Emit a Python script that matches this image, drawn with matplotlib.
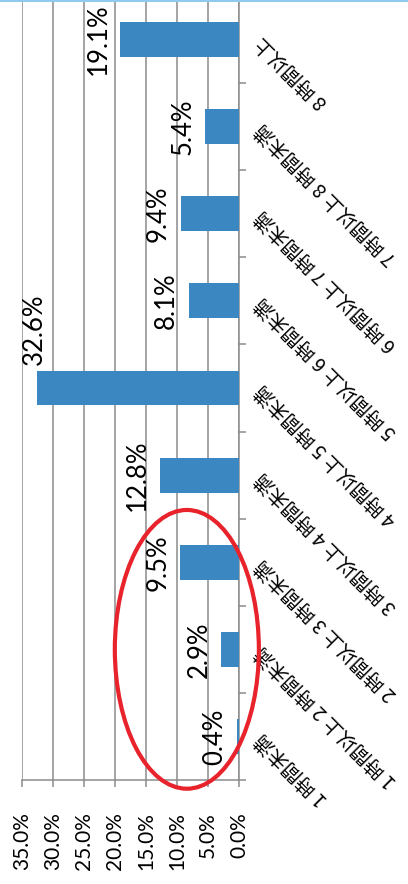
import matplotlib.pyplot as plt
import numpy as np
from matplotlib.patches import Ellipse
from matplotlib.lines import Line2D

# data (bottom -> top in the rotated picture)
categories = ["1 時間未満", "1 時間以上 2 時間未満", "2 時間以上 3 時間未満", "3 時間以上 4 時間未満",
              "4 時間以上 5 時間未満", "5 時間以上 6 時間未満", "6 時間以上 7 時間未満",
              "7 時間以上 8 時間未満", "8 時間以上"]
values = [0.4, 2.9, 9.5, 12.8, 32.6, 8.1, 9.4, 5.4, 19.1]
value_ticks = [0, 5, 10, 15, 20, 25, 30, 35]

BAR = "#3B87C1"
GRID = "#8C8C8C"
NUM_FONT = ["Lato", "DejaVu Sans"]
JP_FONT = ["Noto Sans CJK JP", "DejaVu Sans"]

fig = plt.figure(figsize=(4.08, 8.84), dpi=100)
# axes reaches a bit past the top edge, like the cropped original
ax = fig.add_axes([21.7 / 408, 104 / 884, 217.3 / 408, 784 / 884])

pos = np.arange(len(categories))
ax.barh(pos, values, height=0.4, color=BAR, zorder=3)

ax.set_xlim(35, 0)
ax.set_ylim(-0.5, len(categories) - 0.5)

# value axis (bottom)
ax.set_xticks(value_ticks)
ax.set_xticklabels([f"{v:.1f}%" for v in value_ticks], rotation=90,
                   fontsize=15, family=NUM_FONT, va="top")
ax.tick_params(axis="x", direction="out", length=5, width=1.1, color=GRID, pad=18)
ax.grid(axis="x", color=GRID, linewidth=1.1, zorder=0)
ax.grid(axis="y", visible=False)

# category axis (right)
ax.yaxis.tick_right()
ax.set_yticks(pos)
ax.set_yticklabels(categories, rotation=135, rotation_mode="anchor",
                   ha="right", va="center", fontsize=14, family=JP_FONT)
ax.tick_params(axis="y", which="major", length=0, pad=14)
ax.set_yticks(np.arange(-0.5, len(categories), 1), minor=True)
ax.tick_params(axis="y", which="minor", direction="out", length=5, width=1.1, color=GRID)

for s in ["top", "left"]:
    ax.spines[s].set_visible(False)
for s in ["right", "bottom"]:
    ax.spines[s].set_color(GRID)
    ax.spines[s].set_linewidth(1.1)

# data labels; the tallest one does not fit beside its bar, so it sits above it
top = int(np.argmax(values))
for p, v in zip(pos, values):
    if p == top:
        ax.annotate(f"{v}%", (v, p + 0.2), xytext=(-1.5, 4), textcoords="offset points",
                    rotation=90, ha="center", va="bottom", fontsize=18.5, family=NUM_FONT)
    else:
        ax.annotate(f"{v}%", (v, p), xytext=(-7, 0), textcoords="offset points",
                    rotation=90, ha="right", va="center", fontsize=18.5, family=NUM_FONT)

# red highlight ellipse around the first three bars
ax.add_patch(Ellipse((8.4, 1.0), 23.2, 3.2, fill=False, edgecolor="#E8232B",
                     linewidth=3, zorder=5, clip_on=False))

# thin light-blue border at the top
fig.add_artist(Line2D([0, 1], [0.999, 0.999], color="#8FCBEF", linewidth=1.5))

fig.savefig("out.png", dpi=100)
